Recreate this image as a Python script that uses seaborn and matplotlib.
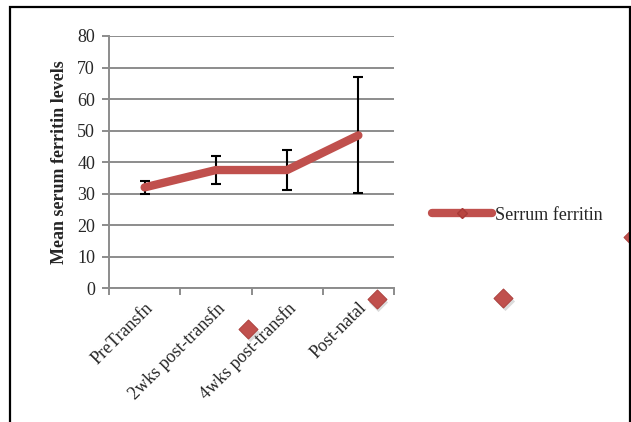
import pandas as pd
import numpy as np
import matplotlib.pyplot as plt
import seaborn as sns
from matplotlib.lines import Line2D
from matplotlib.patches import Rectangle

# data
stages = ["PreTransfn", "2wks post-transfn", "4wks post-transfn", "Post-natal"]
ferritin_mean = [32.0, 37.5, 37.5, 48.5]
ferritin_err = [2.0, 4.3, 6.2, 18.4]

# stray diamond markers that the original rendering left below/right of the plot
stray_x = [1.455, 3.258, 5.034, 6.855]
stray_y = [-13.0, -3.5, -3.2, 16.4]

red = "#C0504D"
grey = "#8C8C8C"

sns.set_theme(style="white")
plt.rcParams["font.family"] = ["Liberation Serif", "DejaVu Serif"]

df = pd.DataFrame({"stage": stages, "ferritin": ferritin_mean})

fig = plt.figure(figsize=(6.31, 4.22), dpi=100)
ax = fig.add_axes([109 / 631, 1 - 288.3 / 422, 285 / 631, 252.3 / 422])

# error bars under the line
ax.errorbar(stages, ferritin_mean, yerr=ferritin_err, fmt="none",
            ecolor="black", elinewidth=1.5, capsize=3.6, capthick=1.5, zorder=2)

sns.lineplot(data=df, x="stage", y="ferritin", ax=ax, color=red, linewidth=6,
             sort=False, legend=False, zorder=3,
             solid_capstyle="round", solid_joinstyle="round")

# the odd leftover markers
ax.scatter(np.array(stray_x) + 0.02, np.array(stray_y) - 0.8, marker="D", s=95,
           color="#999999", alpha=0.35, linewidths=0, clip_on=False, zorder=4)
ax.scatter(stray_x, stray_y, marker="D", s=95, color=red, edgecolors="#A83A37",
           linewidths=0.6, clip_on=False, zorder=5)

ax.set_xlim(-0.5, len(stages) - 0.5)
ax.set_ylim(0, 80)
ax.set_yticks(range(0, 81, 10))
ax.yaxis.grid(True, color=grey, linewidth=1.4)
ax.xaxis.grid(False)
ax.set_axisbelow(True)

for side in ["top", "right"]:
    ax.spines[side].set_visible(False)
for side in ["left", "bottom"]:
    ax.spines[side].set_color(grey)
    ax.spines[side].set_linewidth(1.4)

# ticks: labels at category centres, tick marks at the boundaries
ax.set_xticks(range(len(stages)))
ax.set_xticklabels(stages, rotation=45, ha="right", rotation_mode="anchor",
                   fontsize=13)
ax.set_xticks(np.arange(-0.5, len(stages), 1.0), minor=True)
ax.tick_params(axis="x", which="major", length=0, pad=8)
ax.tick_params(axis="x", which="minor", length=5, width=1.4, color=grey,
               direction="out", bottom=True)
ax.tick_params(axis="y", length=5, width=1.4, color=grey, direction="out",
               left=True, labelsize=13, pad=5)

ax.set_xlabel("")
ax.set_ylabel("Mean serum ferritin levels", fontsize=13, fontweight="bold")
ax.yaxis.set_label_coords(-0.145, 0.5)

handle = Line2D([], [], color=red, linewidth=6, marker="D", markersize=5,
                markeredgecolor="#A83A37", markerfacecolor="#B8443F",
                solid_capstyle="round")
fig.legend([handle], ["Serrum ferritin"], loc="center left",
           bbox_to_anchor=(432 / 631, 1 - 215 / 422), frameon=False,
           fontsize=13, handlelength=3.3, handletextpad=0.2, borderpad=0,
           borderaxespad=0)

# outer border of the original picture
fig.patches.append(Rectangle((10 / 631, -0.1), 620 / 631, 1.1 - 7 / 422,
                             transform=fig.transFigure, fill=False,
                             edgecolor="black", linewidth=1.6, zorder=10))

fig.savefig("out.png", dpi=100)
